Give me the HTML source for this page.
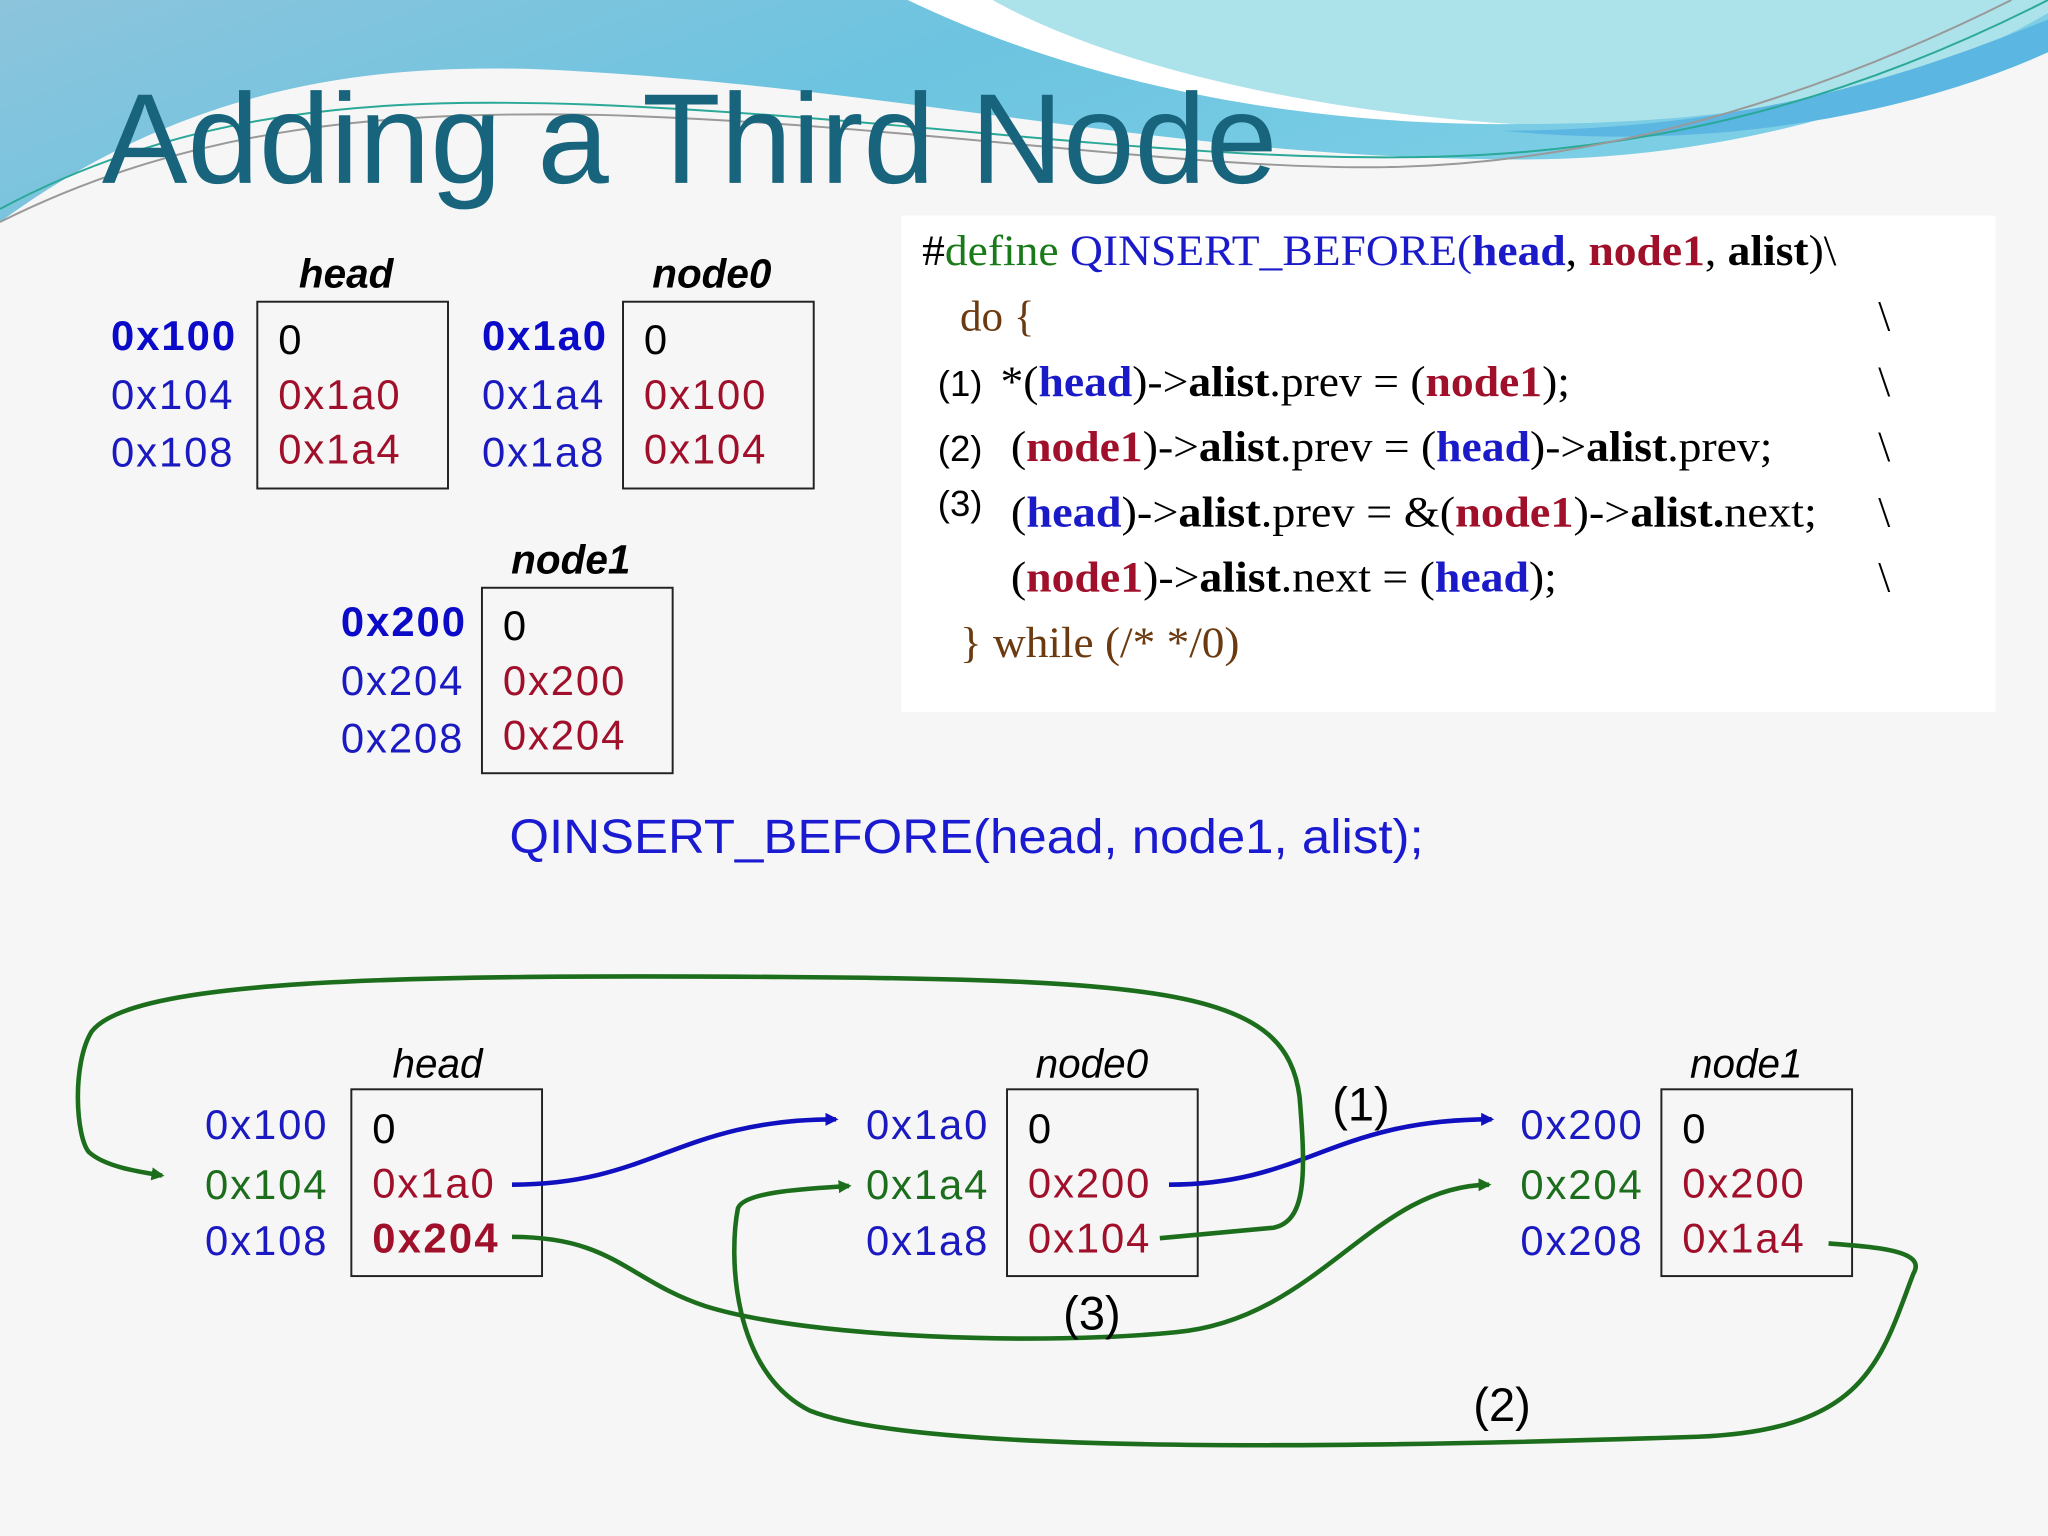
<!DOCTYPE html>
<html><head><meta charset="utf-8"><style>html,body{margin:0;padding:0;background:#f6f6f6}svg{display:block}</style></head><body>
<svg width="2048" height="1536" viewBox="0 0 1568 1176" xmlns="http://www.w3.org/2000/svg">
<defs>
<linearGradient id="bg1" x1="0" y1="0" x2="1" y2="0.3"><stop offset="0" stop-color="#8cc4dc"/><stop offset="0.5" stop-color="#6cc4e0"/><stop offset="1" stop-color="#7fd0e6"/></linearGradient>
<marker id="ab" markerWidth="10" markerHeight="10" refX="8" refY="5" orient="auto" markerUnits="userSpaceOnUse"><path d="M0,0 L10,5 L0,10 Z" fill="#1010c0"/></marker>
<marker id="ag" markerWidth="10" markerHeight="10" refX="8" refY="5" orient="auto" markerUnits="userSpaceOnUse"><path d="M0,0 L10,5 L0,10 Z" fill="#1c6e1c"/></marker>
</defs>
<rect width="1568" height="1176" fill="#f6f6f6"/>
<path d="M0,0 H1568 V20 C1500,60 1350,125 1150,122 C900,120 700,70 450,55 C300,45 150,60 0,170 Z" fill="url(#bg1)"/>
<path d="M760,0 H1568 V10 C1450,80 1300,95 1160,95 C1000,85 850,50 760,0Z" fill="#ace2ea"/>
<path d="M695,0 L760,0 C850,50 1000,85 1160,95 C980,96 820,60 695,0 Z" fill="#ffffff"/>
<path d="M1150,100 C1350,100 1480,50 1568,15 V40 C1480,80 1330,118 1150,100Z" fill="#5cb6e2"/>
<path d="M0,160 C150,80 300,75 450,80 C700,90 900,125 1100,120 C1300,115 1450,60 1568,0" fill="none" stroke="#2aa898" stroke-width="1.5"/>
<path d="M0,170 C150,95 300,85 460,88 C700,95 900,130 1060,128 C1250,125 1420,60 1540,0" fill="none" stroke="#999" stroke-width="1.5"/>
<text x="78" y="140" font-family="Liberation Sans, sans-serif" font-size="98" fill="#17647c" textLength="900" lengthAdjust="spacingAndGlyphs">Adding a Third Node</text>
<rect x="690" y="165" width="838" height="380" fill="#ffffff"/>
<g font-family="Liberation Sans, sans-serif" font-size="31">
<text x="265" y="220" font-weight="bold" font-style="italic" text-anchor="middle">head</text>
<text x="545" y="220" font-weight="bold" font-style="italic" text-anchor="middle">node0</text>
<text x="437" y="439" font-weight="bold" font-style="italic" text-anchor="middle">node1</text>
</g>
<g fill="none" stroke="#222" stroke-width="1.5">
<rect x="197" y="231" width="146" height="143"/><rect x="477" y="231" width="146" height="143"/><rect x="369" y="450" width="146" height="142"/>
<rect x="269" y="834" width="146" height="143"/><rect x="771" y="834" width="146" height="143"/><rect x="1272" y="834" width="146" height="143"/>
</g>
<g font-family="Liberation Sans, sans-serif" font-size="32" lengthAdjust="spacingAndGlyphs">
<text x="85" y="268" fill="#0a0ac8" font-weight="bold" textLength="95">0x100</text><text x="85" y="313" fill="#1a1ac0" textLength="93">0x104</text><text x="85" y="357" fill="#1a1ac0" textLength="93">0x108</text>
<text x="213" y="271">0</text><text x="213" y="313" fill="#a0102a" textLength="93">0x1a0</text><text x="213" y="355" fill="#a0102a" textLength="93">0x1a4</text>
<text x="369" y="268" fill="#0a0ac8" font-weight="bold" textLength="95">0x1a0</text><text x="369" y="313" fill="#1a1ac0" textLength="93">0x1a4</text><text x="369" y="357" fill="#1a1ac0" textLength="93">0x1a8</text>
<text x="493" y="271">0</text><text x="493" y="313" fill="#a0102a" textLength="93">0x100</text><text x="493" y="355" fill="#a0102a" textLength="93">0x104</text>
<text x="261" y="487" fill="#0a0ac8" font-weight="bold" textLength="95">0x200</text><text x="261" y="532" fill="#1a1ac0" textLength="93">0x204</text><text x="261" y="576" fill="#1a1ac0" textLength="93">0x208</text>
<text x="385" y="490">0</text><text x="385" y="532" fill="#a0102a" textLength="93">0x200</text><text x="385" y="574" fill="#a0102a" textLength="93">0x204</text>
</g>
<text x="390" y="653" font-family="Liberation Sans, sans-serif" font-size="37" fill="#1a1ad0" textLength="700" lengthAdjust="spacingAndGlyphs">QINSERT_BEFORE(head, node1, alist);</text>
<g font-family="Liberation Serif, serif" font-size="33">
<text x="706" y="203" textLength="700" lengthAdjust="spacingAndGlyphs">#<tspan fill="#1a7a1a">define </tspan><tspan fill="#1a1ac8">QINSERT_BEFORE(</tspan><tspan fill="#1a1ac8" font-weight="bold">head</tspan>, <tspan fill="#a0102a" font-weight="bold">node1</tspan>, <tspan font-weight="bold">alist</tspan>)\</text>
<text x="735" y="253" fill="#6b3a10">do {</text>
<text x="766" y="303" textLength="436" lengthAdjust="spacingAndGlyphs">*(<tspan fill="#1a1ac8" font-weight="bold">head</tspan>)-&gt;<tspan font-weight="bold">alist</tspan>.prev = (<tspan fill="#a0102a" font-weight="bold">node1</tspan>);</text>
<text x="774" y="353" textLength="583" lengthAdjust="spacingAndGlyphs">(<tspan fill="#a0102a" font-weight="bold">node1</tspan>)-&gt;<tspan font-weight="bold">alist</tspan>.prev = (<tspan fill="#1a1ac8" font-weight="bold">head</tspan>)-&gt;<tspan font-weight="bold">alist</tspan>.prev;</text>
<text x="774" y="403" textLength="617" lengthAdjust="spacingAndGlyphs">(<tspan fill="#1a1ac8" font-weight="bold">head</tspan>)-&gt;<tspan font-weight="bold">alist</tspan>.prev  = &amp;(<tspan fill="#a0102a" font-weight="bold">node1</tspan>)-&gt;<tspan font-weight="bold">alist.</tspan>next;</text>
<text x="774" y="453" textLength="418" lengthAdjust="spacingAndGlyphs">(<tspan fill="#a0102a" font-weight="bold">node1</tspan>)-&gt;<tspan font-weight="bold">alist</tspan>.next = (<tspan fill="#1a1ac8" font-weight="bold">head</tspan>);</text>
<text x="735" y="503" fill="#6b3a10" textLength="214" lengthAdjust="spacingAndGlyphs">} while (/* */0)</text>
<text x="1438" y="253">\</text><text x="1438" y="303">\</text><text x="1438" y="353">\</text><text x="1438" y="403">\</text><text x="1438" y="453">\</text>
</g>
<g font-family="Liberation Sans, sans-serif" font-size="28">
<text x="718" y="303">(1)</text><text x="718" y="353">(2)</text><text x="718" y="395">(3)</text>
</g>
<g font-family="Liberation Sans, sans-serif" font-size="31" font-style="italic" text-anchor="middle">
<text x="335" y="825">head</text><text x="836" y="825">node0</text><text x="1337" y="825">node1</text>
</g>
<g font-family="Liberation Sans, sans-serif" font-size="32" lengthAdjust="spacingAndGlyphs">
<text x="157" y="872" fill="#1a1ac0" textLength="93">0x100</text><text x="157" y="918" fill="#1c6e1c" textLength="93">0x104</text><text x="157" y="961" fill="#1a1ac0" textLength="93">0x108</text>
<text x="285" y="875">0</text><text x="285" y="917" fill="#a0102a" textLength="93">0x1a0</text><text x="285" y="959" fill="#a0102a" font-weight="bold" textLength="96">0x204</text>
<text x="663" y="872" fill="#1a1ac0" textLength="93">0x1a0</text><text x="663" y="918" fill="#1c6e1c" textLength="93">0x1a4</text><text x="663" y="961" fill="#1a1ac0" textLength="93">0x1a8</text>
<text x="787" y="875">0</text><text x="787" y="917" fill="#a0102a" textLength="93">0x200</text><text x="787" y="959" fill="#a0102a" textLength="93">0x104</text>
<text x="1164" y="872" fill="#1a1ac0" textLength="93">0x200</text><text x="1164" y="918" fill="#1c6e1c" textLength="93">0x204</text><text x="1164" y="961" fill="#1a1ac0" textLength="93">0x208</text>
<text x="1288" y="875">0</text><text x="1288" y="917" fill="#a0102a" textLength="93">0x200</text><text x="1288" y="959" fill="#a0102a" textLength="93">0x1a4</text>
</g>
<g fill="none" stroke-width="3.5">
<path d="M392,907 C500,907 520,857 640,857" stroke="#1010c0" marker-end="url(#ab)"/>
<path d="M895,907 C1000,907 1020,857 1142,857" stroke="#1010c0" marker-end="url(#ab)"/>
<path d="M888,948 L975,940 C1000,935 1000,900 995,840 C985,760 900,750 600,748 C300,746 100,750 70,790 C55,815 58,870 68,882 C80,893 105,897 124,900" stroke="#1c6e1c" marker-end="url(#ag)"/>
<path d="M392,947 C470,947 480,980 540,1000 C620,1025 800,1030 900,1020 C1010,1010 1050,908 1140,907" stroke="#1c6e1c" marker-end="url(#ag)"/>
<path d="M1400,952 C1440,955 1475,958 1465,975 C1440,1040 1430,1095 1300,1100 C1000,1110 700,1112 620,1080 C560,1050 558,960 565,925 C570,912 620,910 650,908" stroke="#1c6e1c" marker-end="url(#ag)"/>
</g>
<g font-family="Liberation Sans, sans-serif" font-size="36" text-anchor="middle">
<text x="1042" y="858">(1)</text><text x="836" y="1018">(3)</text><text x="1150" y="1088">(2)</text>
</g>
</svg>
</body></html>
